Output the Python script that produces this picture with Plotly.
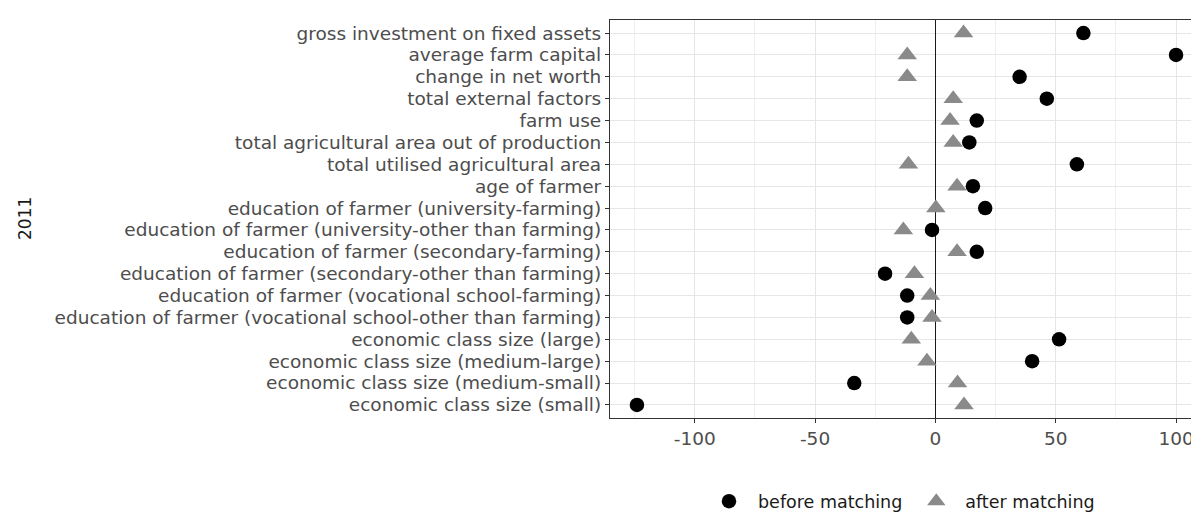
import plotly.graph_objects as go

categories = [
    "gross investment on fixed assets",
    "average farm capital",
    "change in net worth",
    "total external factors",
    "farm use",
    "total agricultural area out of production",
    "total utilised agricultural area",
    "age of farmer",
    "education of farmer (university-farming)",
    "education of farmer (university-other than farming)",
    "education of farmer (secondary-farming)",
    "education of farmer (secondary-other than farming)",
    "education of farmer (vocational school-farming)",
    "education of farmer (vocational school-other than farming)",
    "economic class size (large)",
    "economic class size (medium-large)",
    "economic class size (medium-small)",
    "economic class size (small)",
]
before_matching = [61.5, 100, 35, 46.3, 17.2, 14.1, 58.8, 15.6, 20.7, -1.4,
                   17.2, -20.9, -11.7, -11.7, 51.4, 40.2, -33.7, -124]
after_matching = [11.7, -11.7, -11.7, 7.4, 6.1, 7.4, -11.2, 9.0, 0.2, -13.3,
                  9.0, -8.7, -2.1, -1.4, -10.0, -3.5, 9.2, 11.9]
x_ticks = [-100, -50, 0, 50, 100]
x_tick_labels = ["-100", "-50", "0", "50", "100"]
y_title = "2011"

FONT = "DejaVu Sans, Liberation Sans, Arial, sans-serif"

fig = go.Figure()
fig.add_trace(go.Scatter(
    x=before_matching, y=categories, mode="markers", name="before matching",
    marker=dict(symbol="circle", size=14.5, color="black"),
))
fig.add_trace(go.Scatter(
    x=after_matching, y=categories, mode="markers", name="after matching",
    marker=dict(symbol="triangle-up", size=17, color="#8a8a8a"),
))

L, R, T, B = 602, 4, 12, 102
PW = 1199 - L - R
PH = 515 - T - B

fig.update_layout(
    width=1199, height=515,
    margin=dict(l=L, r=R, t=T, b=B),
    paper_bgcolor="white", plot_bgcolor="white",
    font=dict(family=FONT, size=18.5, color="#4d4d4d"),
    showlegend=True,
    legend=dict(orientation="h", x=(692 - L) / PW, xanchor="left",
                y=(T + PH - 497) / PH, yanchor="middle",
                font=dict(size=17.5, color="#1a1a1a"), bgcolor="rgba(0,0,0,0)",
                itemwidth=48, borderwidth=0),
    xaxis=dict(
        range=[-135.2, 111.2], tickmode="array", tickvals=x_ticks, ticktext=x_tick_labels,
        ticks="outside", ticklen=4, tickcolor="#333333", tickwidth=1,
        showgrid=True, gridcolor="#e6e6e6", gridwidth=1,
        minor=dict(tick0=-125, dtick=50, showgrid=True, gridcolor="#efefef", gridwidth=0.8),
        zeroline=True, zerolinecolor="#1a1a1a", zerolinewidth=1.2,
        showline=True, linecolor="#333333", linewidth=1.2, mirror=True,
        tickfont=dict(size=18.5, color="#4d4d4d"),
    ),
    yaxis=dict(
        categoryorder="array", categoryarray=categories[::-1],
        tickmode="array", tickvals=categories, ticktext=categories,
        range=[-0.6, 17.6], ticks="outside", ticklen=4, tickcolor="#333333",
        showgrid=True, gridcolor="#e6e6e6", gridwidth=1,
        zeroline=False, showline=True, linecolor="#333333", linewidth=1.2, mirror=True,
        tickfont=dict(size=18.5, color="#4d4d4d"),
    ),
)

fig.add_annotation(text=y_title, xref="paper", yref="paper",
                   x=(17 - L) / PW, y=0.5, textangle=-90, showarrow=False,
                   xanchor="center", yanchor="middle",
                   font=dict(size=17, color="#1a1a1a", family=FONT))

fig.write_html("out.html")
